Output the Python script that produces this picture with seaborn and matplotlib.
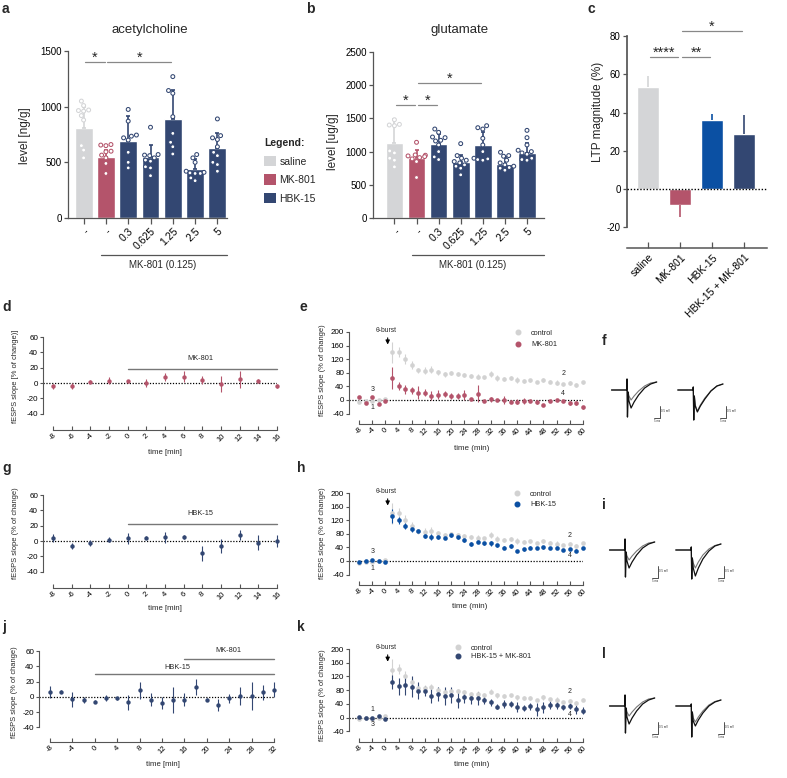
import numpy as np
import pandas as pd
import matplotlib
matplotlib.use('Agg')
from matplotlib import pyplot as plt
from matplotlib import transforms
from matplotlib.collections import PathCollection
from matplotlib.lines import Line2D
from matplotlib.patches import Patch
import seaborn as sns

sns.set_theme(style='ticks')
plt.rcParams['font.family'] = ['Liberation Sans', 'DejaVu Sans']
plt.rcParams['axes.unicode_minus'] = False
plt.rcParams['axes.edgecolor'] = '#555555'
plt.rcParams['xtick.color'] = '#555555'
plt.rcParams['ytick.color'] = '#555555'
plt.rcParams['xtick.labelcolor'] = 'black'
plt.rcParams['ytick.labelcolor'] = 'black'

SALINE = '#d4d5d7'
MK = '#b4546b'
NAVY = '#334772'
BLUE = '#0b50a3'
CTRL = '#d2d2d2'

# ---- panels a, b: neurotransmitter levels
groups = ['saline', 'MK-801', '0.3', '0.625', '1.25', '2.5', '5']
group_ticks = ['-', '-', '0.3', '0.625', '1.25', '2.5', '5']
group_colors = [SALINE, MK, NAVY, NAVY, NAVY, NAVY, NAVY]

ach_mean = [805, 550, 690, 545, 890, 440, 625]
ach_sd = [190, 60, 230, 110, 260, 90, 140]
ach_saline = [1050, 1010, 970, 960, 965, 920, 880, 650, 610, 540]
ach_mk = [660, 655, 650, 600, 595, 565, 540, 490, 400]
ach_03 = [975, 870, 745, 735, 720, 700, 590, 500, 450]
ach_0625 = [815, 570, 565, 560, 540, 520, 510, 460, 450, 380]
ach_125 = [1270, 1145, 1120, 910, 760, 680, 640, 575]
ach_25 = [570, 540, 500, 420, 410, 405, 400, 400, 360, 335]
ach_5 = [890, 740, 720, 705, 640, 590, 560, 500, 480, 420]

glu_mean = [1135, 900, 1115, 840, 1100, 815, 985]
glu_sd = [360, 130, 150, 110, 200, 110, 150]
glu_saline = [1480, 1410, 1400, 1390, 1010, 980, 900, 870, 770]
glu_mk = [1140, 950, 945, 935, 925, 910, 890, 850, 610]
glu_03 = [1340, 1290, 1220, 1210, 1170, 1160, 1100, 1000, 920, 880]
glu_0625 = [1120, 940, 900, 870, 850, 830, 800, 780, 750, 650]
glu_125 = [1390, 1360, 1340, 1200, 1100, 1000, 900, 890, 880, 870]
glu_25 = [990, 940, 930, 870, 830, 800, 780, 760, 750, 720]
glu_5 = [1320, 1210, 1100, 1020, 1000, 980, 960, 900, 880, 870]

ach_sig = [(0, 1, 1400, '*'), (1, 4, 1400, '*')]
glu_sig = [(0, 1, 1700, '*'), (1, 2, 1700, '*'), (1, 4, 2030, '*')]

# ---- panel c: LTP magnitude
ltp_groups = ['saline', 'MK-801', 'HBK-15', 'HBK-15 + MK-801']
ltp_mean = [53.4, -8.3, 36.0, 28.7]
ltp_err = [5.9, 6.5, 3.1, 9.9]
ltp_colors = [SALINE, MK, BLUE, NAVY]
ltp_sig = [(0, 1, 69, '****'), (1, 2, 69, '**'), (1, 3, 82.6, '*')]

# ---- panels d, g, j: baseline recordings
t_short = np.arange(-8, 17, 2)
d_mean = [-4.3, -4, 2, 3.4, 2.5, 0, 7.7, 8.5, 4.3, -1, 5, 3, -4]
d_err = [3, 4, 2, 4, 2, 5, 5, 7, 5, 10, 11, 3, 3]
g_mean = [4, -6.5, -2, 2, 3.5, 4.5, 5, 5.5, -16, -6.5, 8, -2, 0]
g_err = [5, 4, 4, 3, 7, 2, 7, 3, 10, 9, 6, 10, 8]
t_j = np.arange(-8, 33, 2)
j_mean = [6, 7, -3, -3.5, -6.5, -1, -2, -7, 8.5, -3.5, -8, -4, -3.5, 13, -4,
          -10.5, -2, 1, 1, 6, 9.5]
j_err = [8, 2, 10, 4, 2, 4, 2, 10, 11, 9, 8, 17, 8, 10, 2, 8, 6, 12, 18, 10, 10]

# ---- panels e, h, k: LTP time course
t_long = np.arange(-8, 61, 2)
ctrl_mean = [-5, -2, -3, 0, 4, 140, 141, 121, 103, 87, 86, 89, 81, 75, 79, 77,
             74, 70, 69, 67, 76, 65, 62, 65, 59, 57, 58, 52, 59, 54, 51, 46,
             50, 44, 52]
ctrl_err = [3, 3, 3, 3, 3, 30, 15, 15, 12, 8, 10, 10, 8, 8, 6, 6, 6, 6, 8, 5,
            8, 8, 6, 5, 8, 6, 5, 3, 6, 4, 8, 4, 5, 5, 4]
mk_mean = [10, -8, 8, -12, -3, 64, 41, 31, 28, 22, 21, 13, 16, 17, 12, 12, 15,
           3, 19, -2, 2, -1, 1, -5, -5, -3, -4, -6, -14, -3, 0, -4, -10, -8, -22]
mk_err = [3, 3, 4, 3, 3, 33, 12, 12, 10, 18, 10, 12, 12, 8, 10, 10, 15, 3, 25,
          3, 8, 3, 12, 3, 8, 8, 3, 5, 3, 3, 3, 3, 6, 6, 4]
hbk_mean = [-4, 1, 3, -1, -2, 132, 120, 103, 93, 89, 73, 71, 72, 69, 76, 72, 61,
            50, 57, 52, 52, 46, 39, 44, 29, 34, 39, 38, 40, 38, 38, 32, 35, 30, 38]
hbk_err = [2, 2, 3, 2, 2, 20, 10, 10, 8, 5, 6, 8, 6, 5, 5, 6, 6, 5, 5, 5, 8, 4,
           5, 6, 4, 4, 4, 3, 4, 4, 4, 4, 4, 4, 4]
combo_mean = [1, -2, 0, 5, -5, 105, 92, 95, 90, 79, 78, 63, 69, 63, 66, 53, 59,
              56, 56, 52, 45, 32, 41, 40, 31, 28, 33, 24, 30, 37, 36, 30, 34, 24, 20]
combo_err = [3, 3, 3, 3, 3, 20, 25, 30, 30, 25, 15, 20, 20, 25, 22, 25, 15, 15,
             20, 12, 10, 8, 12, 10, 15, 8, 10, 18, 15, 12, 12, 8, 10, 12, 10]

# ---- panels f, i, l: example traces (ms, mV)
trace_t = [0, 10, 10.3, 10.6, 11.0, 11.6, 13.0, 15.0, 18, 22, 26, 30]
ctrl_before = [0, 0, 1.1, -2.7, -0.2, -0.6, -1.0, -0.6, -0.1, 0.4, 0.7, 0.8]
ctrl_after = [0, 0, 1.1, -2.7, -0.2, -1.1, -1.8, -1.2, -0.5, 0.2, 0.6, 0.8]
f_before = [0, 0, 0.3, -3.0, -0.6, -1.5, -2.1, -1.5, -0.8, -0.1, 0.4, 0.6]
f_after = [0, 0, 0.3, -3.0, -0.6, -1.6, -2.2, -1.6, -0.9, -0.1, 0.4, 0.6]
i_before = [0, 0, 0.3, -2.9, -0.8, -1.3, -1.8, -1.2, -0.5, 0.1, 0.45, 0.6]
i_after = [0, 0, 0.3, -2.9, -0.8, -1.8, -2.6, -1.8, -0.9, -0.1, 0.4, 0.6]
l_before = [0, 0, 0.2, -3.1, -0.6, -1.2, -1.6, -1.1, -0.5, 0.1, 0.45, 0.6]
l_after = [0, 0, 0.2, -3.1, -0.6, -1.5, -2.0, -1.4, -0.7, 0.0, 0.4, 0.6]

W, H = 787, 778
fig = plt.figure(figsize=(W / 100, H / 100), dpi=100)


def add_ax(x0, y0, x1, y1):
    return fig.add_axes([x0 / W, 1 - y1 / H, (x1 - x0) / W, (y1 - y0) / H])


def ftext(x, y, s, **kw):
    fig.text(x / W, 1 - y / H, s, **kw)


def add_sig(ax, pairs):
    for i0, i1, y, s in pairs:
        ax.plot([i0 + 0.06, i1 - 0.06], [y, y], color='#888888', lw=0.9, clip_on=False)
        ax.text((i0 + i1) / 2, y, s, ha='center', va='baseline', fontsize=10.5)


def bar_panel(rect, means, sds, points, xlim, ylim, yticks, sig):
    ax = add_ax(*rect)
    sns.barplot(x=groups, y=means, hue=groups, order=groups, hue_order=groups,
                palette=group_colors, width=0.8, saturation=1, errorbar=None,
                legend=False, ax=ax, zorder=2)
    for i, (m, s, c) in enumerate(zip(means, sds, group_colors)):
        ax.errorbar(i, m, yerr=[[0], [s]], color=c, lw=1.2, capsize=1.5,
                    capthick=1.2, zorder=2.5)
    df = pd.DataFrame({'group': np.repeat(groups, [len(p) for p in points]),
                       'value': np.concatenate(points)})
    sns.swarmplot(data=df, x='group', y='value', hue='group', order=groups,
                  hue_order=groups, palette=group_colors, size=2.8, legend=False, ax=ax)
    for coll in ax.collections:
        if isinstance(coll, PathCollection):
            coll.set_edgecolors(coll.get_facecolors())
            coll.set_facecolors('white')
            coll.set_linewidth(0.75)
            coll.set_zorder(4)
    ax.set_xlim(xlim)
    ax.set_ylim(ylim)
    ax.set_yticks(yticks)
    ax.set_yticklabels([str(v) for v in yticks], fontsize=7)
    ax.set_xticks(range(len(groups)))
    ax.set_xticklabels(group_ticks, rotation=45, ha='right', rotation_mode='anchor', fontsize=7.5)
    ax.tick_params(axis='y', direction='out', length=3, width=0.9, pad=1.5)
    ax.tick_params(axis='x', direction='out', length=4, width=0.9, pad=2)
    ax.set_xlabel('')
    ax.set_ylabel('')
    sns.despine(ax=ax)
    for sp in ('left', 'bottom'):
        ax.spines[sp].set_linewidth(0.9)
    add_sig(ax, sig)
    # MK-801 (0.125) bracket under HBK doses
    tr = transforms.blended_transform_factory(ax.transData, ax.transAxes)
    ax.plot([0.8, xlim[1]], [-0.222, -0.222], color='#555555', lw=0.9,
            transform=tr, clip_on=False)
    ax.text(3.55, -0.282, 'MK-801 (0.125)', transform=tr, ha='center', va='center', fontsize=7)
    return ax


# panel a
bar_panel((68, 51, 227, 218), ach_mean, ach_sd,
          [ach_saline, ach_mk, ach_03, ach_0625, ach_125, ach_25, ach_5],
          (-0.70, 6.43), (0, 1500), [0, 500, 1000, 1500], ach_sig)
ftext(150, 30, 'acetylcholine', ha='center', va='center', fontsize=9.5)
ftext(25, 136, 'level [ng/g]', rotation=90, ha='center', va='center', fontsize=8.5)

# panel b
bar_panel((373, 52, 544, 218), glu_mean, glu_sd,
          [glu_saline, glu_mk, glu_03, glu_0625, glu_125, glu_25, glu_5],
          (-0.97, 6.77), (0, 2500), [0, 500, 1000, 1500, 2000, 2500], glu_sig)
ftext(460, 30, 'glutamate', ha='center', va='center', fontsize=9.5)
ftext(333, 142, 'level [ug/g]', rotation=90, ha='center', va='center', fontsize=8.5)

# shared legend
handles = [Patch(facecolor=c, edgecolor='none') for c in [SALINE, MK, NAVY]]
leg = fig.legend(handles, ['saline', 'MK-801', 'HBK-15'], title='Legend:',
                 loc='upper left', bbox_to_anchor=(264 / W, 1 - 138 / H),
                 frameon=False, fontsize=7.5, handlelength=1.15, handleheight=1.15,
                 handletextpad=0.35, labelspacing=0.75, borderpad=0, borderaxespad=0,
                 alignment='left', title_fontproperties={'weight': 'bold', 'size': 7.5})

# panel c
axc = add_ax(627, 36, 767, 248)
sns.barplot(x=ltp_groups, y=ltp_mean, hue=ltp_groups, order=ltp_groups,
            hue_order=ltp_groups, palette=ltp_colors, width=0.69, saturation=1,
            errorbar=None, legend=False, ax=axc, zorder=2)
for i, (m, e, c) in enumerate(zip(ltp_mean, ltp_err, ltp_colors)):
    lo, hi = (e, 0) if m < 0 else (0, e)
    axc.errorbar(i, m, yerr=[[lo], [hi]], color=c, lw=1.2, capsize=0, zorder=2.5)
axc.axhline(0, color='black', lw=1, ls=(0, (1, 1.3)), zorder=3)
axc.set_xlim(-0.66, 3.72)
axc.set_ylim(-30.8, 80)
axc.set_yticks([-20, 0, 20, 40, 60, 80])
axc.set_yticklabels(['-20', '0', '20', '40', '60', '80'], fontsize=7)
axc.set_xticks(range(4))
axc.set_xticklabels(ltp_groups, rotation=45, ha='right', rotation_mode='anchor', fontsize=7.5)
axc.tick_params(axis='y', direction='out', length=3, width=0.9, pad=1.5)
axc.tick_params(axis='x', direction='in', length=4, width=0.9, pad=3)
axc.set_xlabel('')
axc.set_ylabel('')
sns.despine(ax=axc)
axc.spines['left'].set_bounds(-20, 80)
axc.spines['bottom'].set_linewidth(1.1)
add_sig(axc, ltp_sig)
ftext(598, 112, 'LTP magnitude (%)', rotation=90, ha='center', va='center', fontsize=8.5)


def time_panel(rect, xlim, ylim, ybounds, xticks, yticks, series, size, tick_fs):
    ax = add_ax(*rect)
    ax.set_xlim(xlim)
    ax.set_ylim(ylim)
    ax.axhline(0, color='black', lw=0.9, ls=(0, (1, 1.3)), zorder=1)
    for t, mean, err, color in series:
        ax.errorbar(t, mean, yerr=err, fmt='none', ecolor=color, elinewidth=0.8,
                    zorder=2, clip_on=False)
        sns.scatterplot(x=t, y=mean, color=color, s=size, linewidth=0, ax=ax,
                        zorder=3, clip_on=False, legend=False)
    ax.set_xticks(xticks)
    ax.set_xticklabels([str(v) for v in xticks], rotation=45, ha='center', fontsize=tick_fs)
    ax.set_yticks(yticks)
    ax.set_yticklabels([str(v) for v in yticks], fontsize=tick_fs + 0.3)
    ax.tick_params(axis='y', direction='out', length=2.5, width=0.8, pad=1)
    ax.tick_params(axis='x', direction='in', length=3, width=0.8, pad=1.5)
    sns.despine(ax=ax)
    ax.spines['left'].set_bounds(*ybounds)
    ax.spines['bottom'].set_bounds(xticks[0], xticks[-1])
    for sp in ('left', 'bottom'):
        ax.spines[sp].set_linewidth(0.8)
    return ax


def drug_bar(ax, t0, t1, y, label, tx, ty):
    ax.plot([t0, t1], [y, y], color='#777777', lw=1, clip_on=False)
    ax.text(tx, ty, label, ha='center', va='center', fontsize=5.3)


short_ticks = list(range(-8, 17, 2))
# panel d
axd = time_panel((43, 337, 277, 430), (-9.07, 16), (-61, 60), (-40, 60), short_ticks,
                 [-40, -20, 0, 20, 40, 60], [(t_short, d_mean, d_err, MK)], 10, 5.5)
drug_bar(axd, 0, 16, 19, 'MK-801', 7.75, 32)
ftext(16, 376, 'fESPS slope [% of change)]', rotation=90, ha='center', va='center', fontsize=5.4)
ftext(165, 452, 'time [min]', ha='center', va='center', fontsize=5.6)

# panel g
axg = time_panel((43, 495, 277, 588), (-9.07, 16), (-61, 60), (-40, 60), short_ticks,
                 [-40, -20, 0, 20, 40, 60], [(t_short, g_mean, g_err, NAVY)], 10, 5.5)
drug_bar(axg, 0, 16, 22, 'HBK-15', 7.75, 36)
ftext(16, 533, 'fESPS slope (% of change)', rotation=90, ha='center', va='center', fontsize=5.4)
ftext(165, 608, 'time [min]', ha='center', va='center', fontsize=5.6)

# panel j
axj = time_panel((39, 651, 274, 742), (-9.96, 32), (-59, 60), (-40, 60), list(range(-8, 33, 4)),
                 [-40, -20, 0, 20, 40, 60], [(t_j, j_mean, j_err, NAVY)], 10, 5.5)
drug_bar(axj, 0, 32, 30, 'HBK-15', 14.7, 39)
drug_bar(axj, 16, 32, 50, 'MK-801', 23.8, 61)
ftext(15, 692, 'fESPS slope (% of change)', rotation=90, ha='center', va='center', fontsize=5.4)
ftext(163, 765, 'time [min]', ha='center', va='center', fontsize=5.6)

long_ticks = list(range(-8, 61, 4))
long_yticks = [-40, 0, 40, 80, 120, 160, 200]


def ltp_panel(rect, drug_mean, drug_err, color, label, leg_xy, leg_space, nums):
    ax = time_panel(rect, (-11.04, 60), (-70.6, 200), (-40, 200), long_ticks, long_yticks,
                    [(t_long, ctrl_mean, ctrl_err, CTRL), (t_long, drug_mean, drug_err, color)],
                    11, 5.5)
    ax.annotate('', xy=(0.7, 155), xytext=(0.7, 191),
                arrowprops=dict(arrowstyle='-|>', color='black', lw=0.8, mutation_scale=6))
    ax.text(0.2, 204, 'θ-burst', ha='center', va='center', fontsize=4.8)
    for s, tx, ty in nums:
        ax.text(tx, ty, s, ha='center', va='center', fontsize=5)
    hs = [Line2D([], [], marker='o', ls='', color=c, ms=3.3) for c in (CTRL, color)]
    ax.legend(hs, ['control', label], loc='upper left',
              bbox_to_anchor=(leg_xy[0] / W, 1 - leg_xy[1] / H), bbox_transform=fig.transFigure,
              frameon=False, fontsize=5.3, handlelength=1.0, handletextpad=1.3,
              labelspacing=leg_space, borderpad=0, borderaxespad=0)
    return ax


# panel e
ltp_panel((349, 332, 583, 424), mk_mean, mk_err, MK, 'MK-801', (514, 329.5), 0.6,
          [('3', -4, 32), ('1', -4, -22), ('2', 54, 79), ('4', 54, 18)])
ftext(322, 370, 'fESPS slope (% of change)', rotation=90, ha='center', va='center', fontsize=5.4)
ftext(472, 448, 'time (min)', ha='center', va='center', fontsize=5.8)

# panel h
ltp_panel((349, 493, 583, 585), hbk_mean, hbk_err, BLUE, 'HBK-15', (513, 490.5), 0.45,
          [('3', -4, 29), ('1', -4, -21), ('2', 56, 74), ('4', 56, 15)])
ftext(322, 533, 'fESPS slope (% of change)', rotation=90, ha='center', va='center', fontsize=5.4)
ftext(470, 607, 'time (min)', ha='center', va='center', fontsize=5.8)

# panel k
ltp_panel((349, 649, 583, 742), combo_mean, combo_err, NAVY, 'HBK-15 + MK-801', (454, 644.5), 0.2,
          [('1', -4, 25), ('3', -4, -20), ('2', 56, 76), ('4', 56, 10)])
ftext(322, 695, 'fESPS slope (% of change)', rotation=90, ha='center', va='center', fontsize=5.4)
ftext(472, 765, 'time (min)', ha='center', va='center', fontsize=5.8)


def trace_panel(rect, left_pair, right_pair):
    ax = add_ax(*rect)
    ax.set_xlim(-1, 82)
    ax.set_ylim(-3.5, 1.5)
    ax.axis('off')
    shift = 44
    for (before, after), dx in ((left_pair, 0), (right_pair, shift)):
        tt = np.add(trace_t, dx)
        ax.plot(tt, before, color='#777777', lw=0.8)
        ax.plot(tt, after, color='#111111', lw=0.9)
        sx = trace_t[-1] + dx + 2
        ax.plot([sx - 4, sx, sx], [-2.8, -2.8, -1.6], color='#333333', lw=0.6)
        ax.text(sx + 0.8, -2.1, '0.5 mV', fontsize=2, va='center')
        ax.text(sx - 2, -3.15, '5 ms', fontsize=2, ha='center', va='center')


trace_panel((610, 375, 735, 425), (ctrl_before, ctrl_after), (f_before, f_after))
trace_panel((608, 535, 733, 585), (ctrl_before, ctrl_after), (i_before, i_after))
trace_panel((608, 691, 733, 741), (ctrl_before, ctrl_after), (l_before, l_after))

# panel letters
for s, x, y in [('a', 2, 2), ('b', 306, 2), ('c', 587, 2), ('d', 2, 300), ('e', 299, 300),
                ('f', 602, 334), ('g', 2, 461), ('h', 297, 461), ('i', 602, 498),
                ('j', 2, 620), ('k', 297, 620), ('l', 602, 647)]:
    ftext(x, y, s, ha='left', va='top', fontsize=10, fontweight='bold')

fig.savefig('out.png', dpi=100)
